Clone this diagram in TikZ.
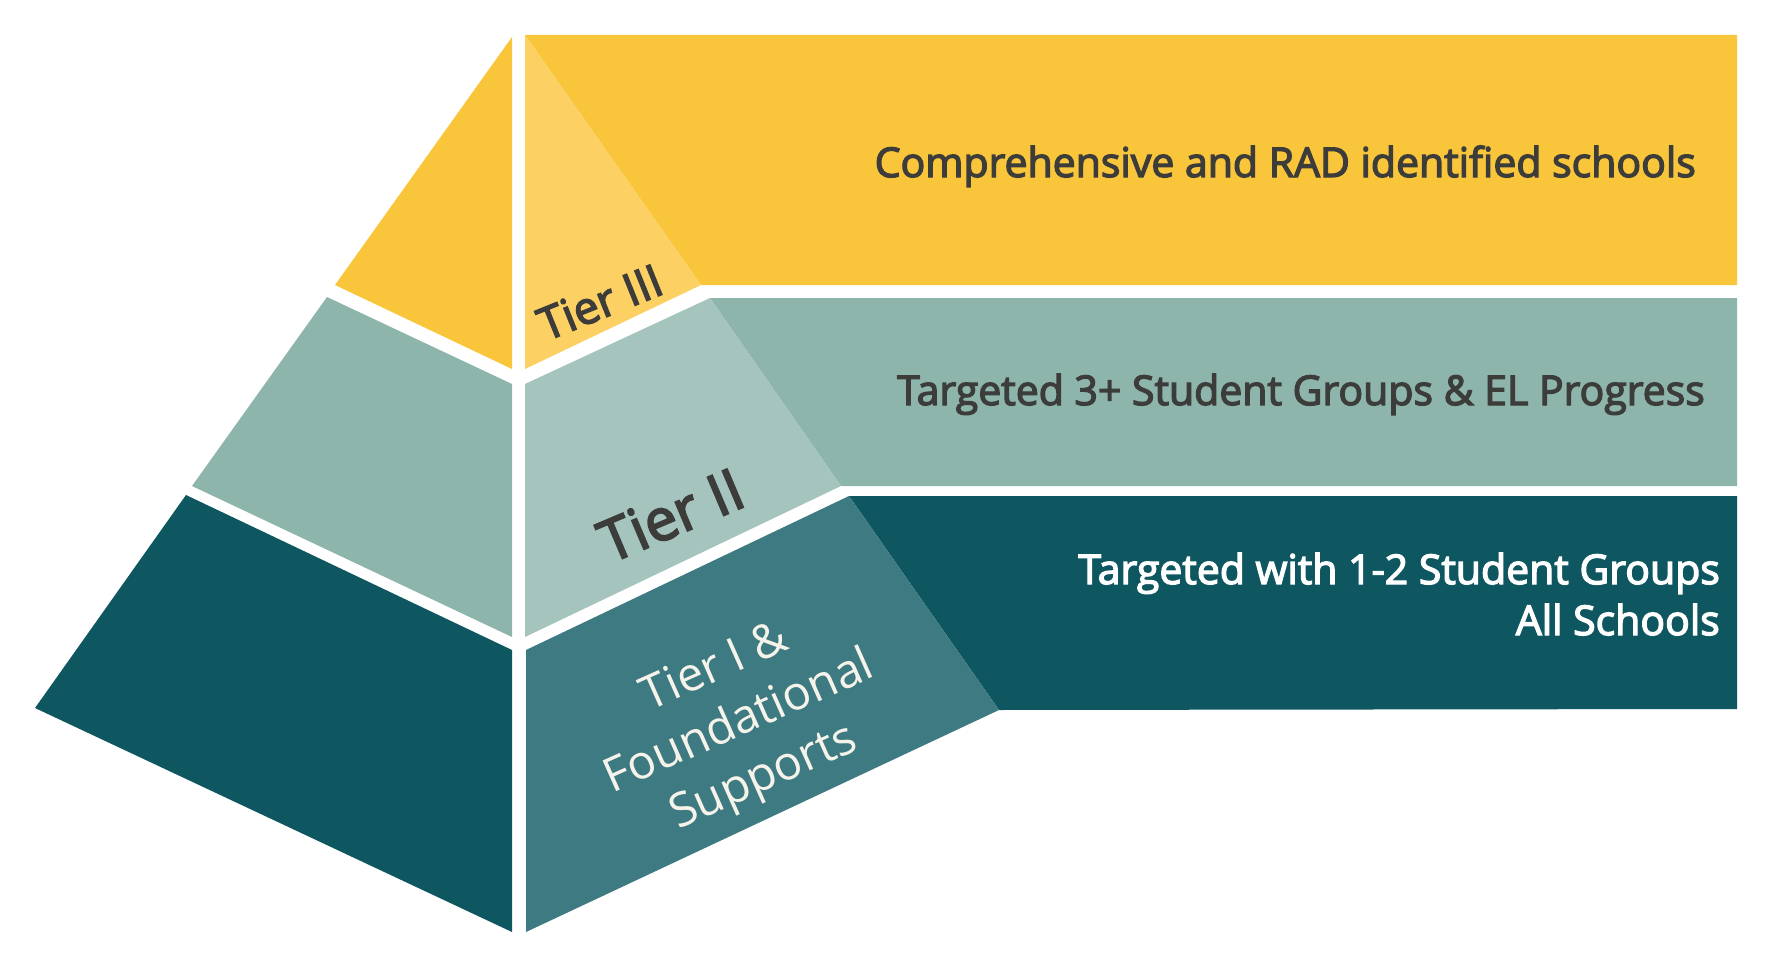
\documentclass[tikz,border=0pt]{standalone}
\usepackage{fontspec}
\setmainfont{Open Sans}
\newfontfamily\semib{Open Sans}[FakeBold=3.2]
\definecolor{yel}{HTML}{F9C53B}
\definecolor{yellt}{HTML}{FCD062}
\definecolor{sage}{HTML}{8DB5AB}
\definecolor{sagelt}{HTML}{A4C4BD}
\definecolor{dteal}{HTML}{0F5760}
\definecolor{mteal}{HTML}{3E7A81}
\definecolor{txtd}{HTML}{3C3C3A}
\definecolor{txtw}{HTML}{F6F3EB}
\begin{document}
\begin{tikzpicture}[x=1pt,y=-1pt,
  band/.style={inner sep=0pt, font=\semib\fontsize{41}{50}\selectfont},
  tierlbl/.style={inner sep=0pt, align=center}]
\useasboundingbox (0,0) rectangle (1780,979);
% left faces
\fill[yel] (512,37) -- (335,285) -- (512,369) -- cycle;
\fill[sage] (327,297) -- (192,486) -- (512,637) -- (512,384) -- cycle;
\fill[dteal] (186,495) -- (35,708) -- (512,932) -- (512,650) -- cycle;
% bands
\fill[yel] (525,35) -- (1737,35) -- (1737,285) -- (701,285) -- cycle;
\fill[sage] (710,298) -- (1737,298) -- (1737,486) -- (841,486) -- cycle;
\fill[dteal] (849,496) -- (1737,496) -- (1737,709) -- (999,710) -- cycle;
% right faces
\fill[yellt] (525,35) -- (701,285) -- (525,369) -- cycle;
\fill[sagelt] (525,384) -- (710,298) -- (841,486) -- (525,637) -- cycle;
\fill[mteal] (526,650) -- (849,496) -- (999,710) -- (526,932) -- cycle;
% band texts
\node[band, text=txtd, anchor=base east] (t3) at (1696,177) {Comprehensive and RAD identified schools};
\node[band, text=txtd, anchor=base east] (t2) at (1705,405) {Targeted 3+ Student Groups \& EL Progress};
\node[band, text=white, anchor=base east] (t1a) at (1720,584) {Targeted with 1-2 Student Groups};
\node[band, text=white, anchor=base east] (t1b) at (1720,635) {All Schools};
% tier labels
\node[tierlbl, text=txtd, rotate=22, font=\semib\fontsize{45}{52}\selectfont] (l3) at (600,302) {Tier III};
\node[tierlbl, text=txtd, rotate=23, font=\semib\fontsize{58}{66}\selectfont] (l2) at (671,515) {Tier II};
\node[tierlbl, text=txtw, rotate=24, font=\fontsize{47}{60}\selectfont] (l1) at (740,724) {Tier I \&\\Foundational\\Supports};
\end{tikzpicture}
\end{document}
